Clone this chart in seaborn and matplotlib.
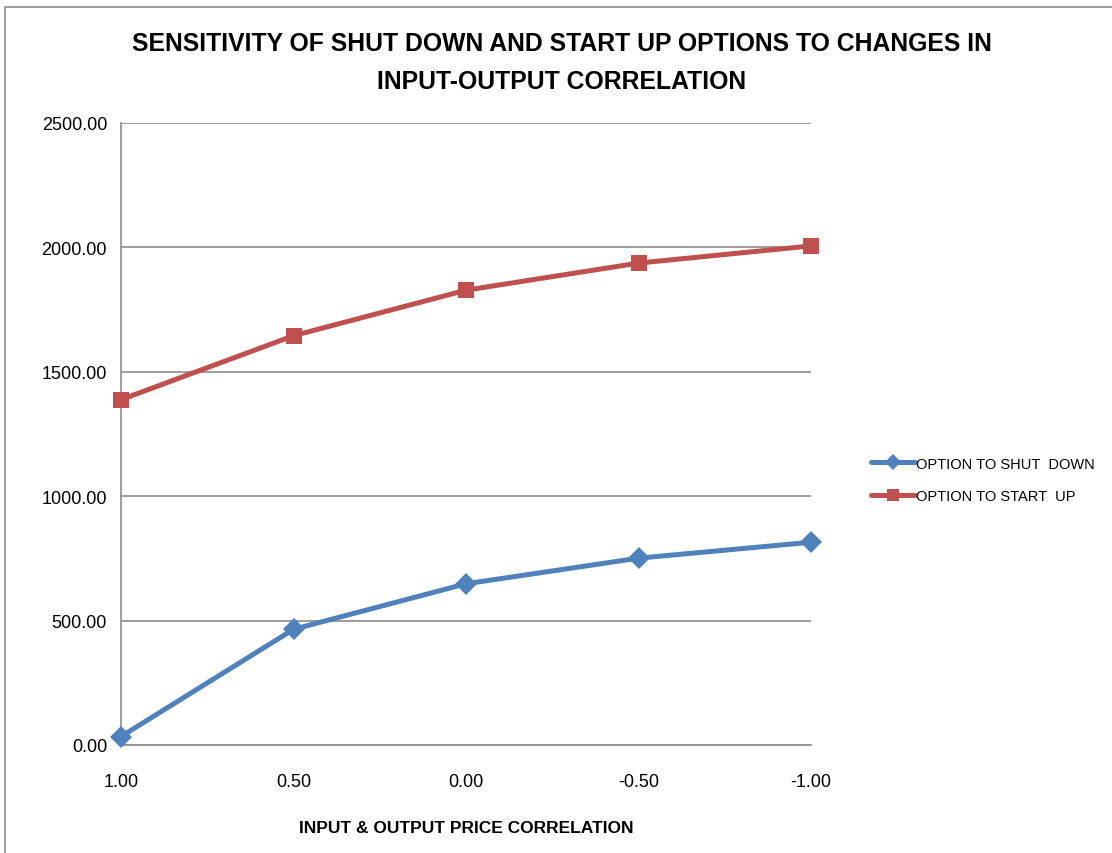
import numpy as np
import pandas as pd
import matplotlib
matplotlib.use("Agg")
import matplotlib.pyplot as plt
import seaborn as sns
from matplotlib.patches import Rectangle
from matplotlib.ticker import FormatStrFormatter

# ── data ──
correlation = ["1.00", "0.50", "0.00", "-0.50", "-1.00"]
shut_down = [34, 465, 648, 751, 815]
start_up = [1388, 1645, 1828, 1937, 2006]

df = pd.DataFrame({
    "pos": list(range(len(correlation))) * 2,
    "value": shut_down + start_up,
    "series": ["OPTION TO SHUT  DOWN"] * len(correlation) + ["OPTION TO START  UP"] * len(correlation),
})

sns.set_theme(style="white")
plt.rcParams["font.family"] = ["Liberation Sans", "DejaVu Sans"]
plt.rcParams["text.color"] = "black"
plt.rcParams["axes.labelcolor"] = "black"

fig = plt.figure(figsize=(11.12, 8.54), dpi=100)
fig.patches.append(Rectangle((5 / 1112, -0.1), 1.2, 1 - 8 / 854 + 0.1,
                             transform=fig.transFigure, fill=False,
                             edgecolor="#8c8c8c", linewidth=1.2))
ax = fig.add_axes([121 / 1112, 1 - 746 / 854, 690 / 1112, 622 / 854])

palette = {"OPTION TO SHUT  DOWN": "#4F81BD", "OPTION TO START  UP": "#C0504D"}
markers = {"OPTION TO SHUT  DOWN": "D", "OPTION TO START  UP": "s"}
sns.lineplot(data=df, x="pos", y="value", hue="series", style="series",
             palette=palette, markers=markers, dashes=False, linewidth=3.6,
             markersize=11, markeredgewidth=0, ax=ax, clip_on=False, zorder=3)

ax.set_xlim(0, 4)
ax.set_ylim(0, 2500)
ax.set_xticks(range(len(correlation)))
ax.set_xticklabels(correlation)
ax.set_yticks(np.arange(0, 2501, 500))
ax.yaxis.set_major_formatter(FormatStrFormatter("%.2f"))
ax.yaxis.grid(True, color="#8c8c8c", linewidth=1.2)
ax.xaxis.grid(False)
for side in ["top", "right"]:
    ax.spines[side].set_visible(False)
for side in ["left", "bottom"]:
    ax.spines[side].set_color("#8c8c8c")
    ax.spines[side].set_linewidth(1.2)
ax.tick_params(axis="both", which="major", direction="out", length=6,
               color="#8c8c8c", width=1.2, labelsize=13, labelcolor="black")
ax.tick_params(axis="x", pad=14)
ax.tick_params(axis="y", pad=4)

ax.set_xlabel("INPUT & OUTPUT PRICE CORRELATION", fontsize=12.5, fontweight="bold", labelpad=22)
ax.set_ylabel("")

fig.text(562 / 1112, 1 - 63 / 854,
         "SENSITIVITY OF SHUT DOWN AND START UP OPTIONS TO CHANGES IN\nINPUT-OUTPUT CORRELATION",
         ha="center", va="center", fontsize=17.8, fontweight="bold", linespacing=1.7)

leg = ax.legend(loc="center left", bbox_to_anchor=(858 / 1112, 1 - 481 / 854),
                bbox_transform=fig.transFigure, frameon=False, fontsize=10.5,
                handlelength=3.0, handletextpad=0.1, labelspacing=1.3)
for h in leg.legend_handles:
    h.set_markersize(8)
    h.set_linewidth(3.6)

plt.savefig("out.png", dpi=100)
